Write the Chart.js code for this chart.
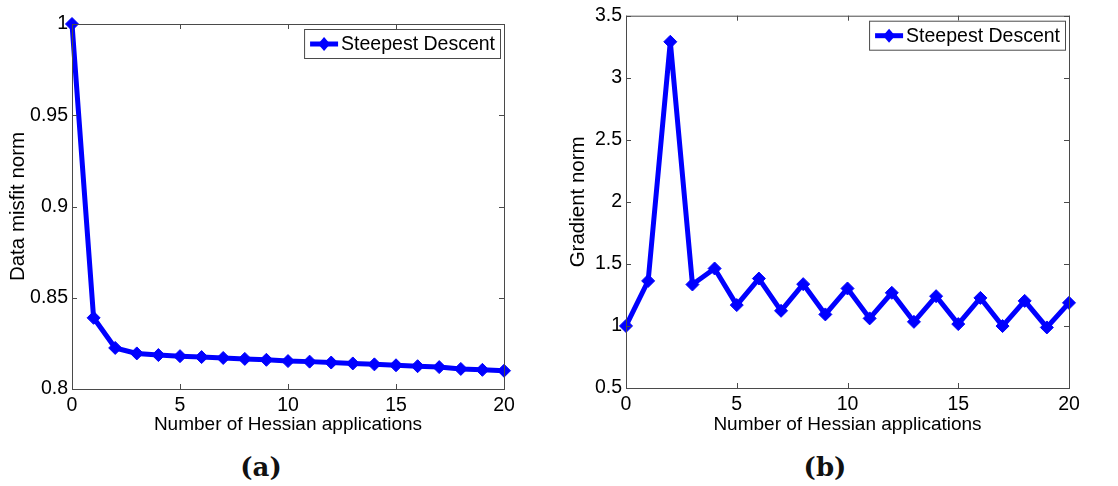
<!DOCTYPE html>
<html>
<head>
<meta charset="utf-8">
<script src="https://cdn.jsdelivr.net/npm/chart.js@4"></script>
<style>
  body { margin: 0; background: #fff; width: 1118px; height: 486px; position: relative; overflow: hidden; }
  canvas { position: absolute; top: 0; }
  #graficoA { left: 0; }
  #graficoB { left: 560px; }
  .caption { position: absolute; top: 452px; font: bold 26px "DejaVu Serif", serif; color: #111; transform: translateX(-50%); }
</style>
</head>
<body>
<canvas id="graficoA" width="560" height="440"></canvas>
<canvas id="graficoB" width="558" height="440"></canvas>
<div class="caption" style="left:261px">(a)</div>
<div class="caption" style="left:825px">(b)</div>
<script>
// iteraciones (eje x)
const iteraciones = [0, 1, 2, 3, 4, 5, 6, 7, 8, 9, 10, 11, 12, 13, 14, 15, 16, 17, 18, 19, 20];
// (a) norma del desajuste de datos
const misfitNorm = [1.0, 0.839, 0.8225, 0.8195, 0.8186, 0.818, 0.8175, 0.817, 0.8165, 0.816, 0.8153,
  0.815, 0.8145, 0.814, 0.8135, 0.813, 0.8125, 0.812, 0.811, 0.8105, 0.810];
// (b) norma del gradiente
const gradNorm = [1.0, 1.363, 3.29, 1.334, 1.463, 1.168, 1.382, 1.122, 1.337, 1.093, 1.302,
  1.061, 1.267, 1.033, 1.240, 1.015, 1.226, 0.999, 1.202, 0.988, 1.186];
const serieNombre = 'Steepest Descent';
const ejeX = 'Number of Hessian applications';
const ejeYA = 'Data misfit norm';
const ejeYB = 'Gradient norm';

const fuente = '"Liberation Sans", Arial, sans-serif';
const azul = '#0000ff';
const gris = '#4a4a4a';

// marco tipo matlab con marcas hacia dentro + leyenda en la esquina
const marcoMatlab = {
  id: 'marcoMatlab',
  afterDraw(chart) {
    const { ctx, chartArea: a, scales } = chart;
    ctx.save();
    ctx.strokeStyle = gris;
    ctx.lineWidth = 1;
    ctx.strokeRect(a.left + 0.5, a.top + 0.5, a.right - a.left, a.bottom - a.top);
    const t = 5;
    ctx.beginPath();
    scales.x.ticks.forEach(tk => {
      const px = Math.round(scales.x.getPixelForValue(tk.value)) + 0.5;
      ctx.moveTo(px, a.bottom); ctx.lineTo(px, a.bottom - t);
      ctx.moveTo(px, a.top); ctx.lineTo(px, a.top + t);
    });
    scales.y.ticks.forEach(tk => {
      const py = Math.round(scales.y.getPixelForValue(tk.value)) + 0.5;
      ctx.moveTo(a.left, py); ctx.lineTo(a.left + t, py);
      ctx.moveTo(a.right, py); ctx.lineTo(a.right - t, py);
    });
    ctx.stroke();

    // leyenda
    const ds = chart.data.datasets[0];
    ctx.font = '19.5px ' + fuente;
    const tw = ctx.measureText(ds.label).width;
    const h = 29, w = 6 + 28 + 3 + tw + 5;
    const x0 = a.right - 4 - w, y0 = a.top + 5;
    ctx.fillStyle = '#fff';
    ctx.fillRect(x0, y0, w, h);
    ctx.strokeStyle = gris;
    ctx.strokeRect(x0 + 0.5, y0 + 0.5, w, h);
    const cy = y0 + h / 2 + 0.5;
    ctx.strokeStyle = azul;
    ctx.lineWidth = 5;
    ctx.beginPath();
    ctx.moveTo(x0 + 6, cy); ctx.lineTo(x0 + 34, cy);
    ctx.stroke();
    ctx.fillStyle = azul;
    ctx.beginPath();
    ctx.moveTo(x0 + 20, cy - 7); ctx.lineTo(x0 + 26, cy);
    ctx.lineTo(x0 + 20, cy + 7); ctx.lineTo(x0 + 14, cy);
    ctx.closePath();
    ctx.fill();
    ctx.fillStyle = '#000';
    ctx.textBaseline = 'middle';
    ctx.fillText(ds.label, x0 + 37, cy + 1);
    ctx.restore();
  }
};

// etiquetas estilo matlab: 1, 0.95, 0.8, 3.5 ...
const formatoTick = v => String(Number(v.toFixed(3)));

function crearGrafico(id, valores, yTitulo, yMin, yMax, paso, pad, anchoY, altoX) {
  return new Chart(document.getElementById(id), {
    type: 'line',
    data: {
      datasets: [{
        label: serieNombre,
        data: iteraciones.map((x, i) => ({ x: x, y: valores[i] })),
        borderColor: azul,
        backgroundColor: azul,
        borderWidth: 5,
        pointStyle: 'rectRot',
        pointRadius: 6.5,
        pointBorderWidth: 1,
        tension: 0,
        clip: false
      }]
    },
    plugins: [marcoMatlab],
    options: {
      responsive: false,
      animation: false,
      layout: { padding: pad },
      plugins: { legend: { display: false }, tooltip: { enabled: false } },
      scales: {
        x: {
          type: 'linear',
          min: 0, max: 20,
          grid: { display: false, drawTicks: false },
          border: { display: false },
          ticks: { stepSize: 5, color: '#000', padding: 5, callback: formatoTick, font: { family: fuente, size: 19.5 } },
          title: { display: true, text: ejeX, color: '#000', padding: { top: 0, bottom: 4 }, font: { family: fuente, size: 19 } },
          afterFit(s) { s.height = altoX; }
        },
        y: {
          min: yMin, max: yMax,
          grid: { display: false, drawTicks: false },
          border: { display: false },
          ticks: { stepSize: paso, color: '#000', padding: 4, callback: formatoTick, font: { family: fuente, size: 19.5 } },
          title: { display: true, text: yTitulo, color: '#000', padding: { top: 6, bottom: 0 }, font: { family: fuente, size: 20.5 } },
          afterFit(s) { s.width = anchoY; }
        }
      }
    }
  });
}

crearGrafico('graficoA', misfitNorm, ejeYA, 0.8, 1.0, 0.05, { top: 24, right: 56, left: 0, bottom: 0 }, 72, 51);
crearGrafico('graficoB', gradNorm, ejeYB, 0.5, 3.5, 0.5, { top: 15, right: 49, left: 0, bottom: 0 }, 66, 52);
</script>
</body>
</html>
